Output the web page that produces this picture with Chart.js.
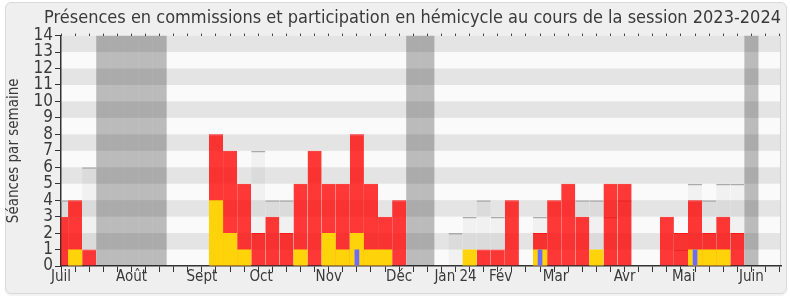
<!DOCTYPE html>
<html>
<head>
<meta charset="utf-8">
<script src="https://cdn.jsdelivr.net/npm/chart.js@4.4.1/dist/chart.umd.min.js"></script>
<style>
  html, body { margin: 0; padding: 0; background: #fff; }
  #frame { position: absolute; left: 5px; top: 2px; width: 780px; height: 290px; background: #efefef;
           border: 1px solid #d9d9d9; border-radius: 6px; box-shadow: 0 2px 1px rgba(0,0,0,0.05); }
  #wrap { position: absolute; left: 0; top: 0; width: 790px; height: 300px; }
</style>
</head>
<body>
<div id="frame"></div>
<div id="wrap"><canvas id="chart" width="790" height="300"></canvas></div>
<script>
// semaines de la session (0 = première semaine de juillet 2023)
const weeks = Array.from({ length: 52 }, (_, i) => i);

const vacances   = [null,null,null,14,14,14,14,14,null,null,null,null,null,null,null,null,null,null,null,null,null,null,null,null,null,14,14,null,null,null,null,null,null,null,null,null,null,null,null,null,null,null,null,null,null,null,null,null,null,14,null,null];
const mediane    = [4,null,6,null,null,null,null,null,null,null,null,null,null,null,7,4,4,null,null,null,null,null,null,null,null,null,null,null,2,3,4,3,null,null,3,null,null,4,4,3,4,null,null,null,1,5,4,5,5,null,null,null];
const commission = [3,4,1,null,null,null,null,null,null,null,null,8,7,5,2,3,2,5,7,5,5,8,5,3,4,null,null,null,null,null,1,1,4,null,2,4,5,3,null,5,5,null,null,3,2,4,2,3,2,null,null,null];
const hemicycle  = [null,1,null,null,null,null,null,null,null,null,null,4,2,1,null,null,null,1,null,2,1,2,1,1,null,null,null,null,null,1,null,null,null,null,1,null,null,null,1,null,null,null,null,null,null,1,1,1,null,null,null,null];
const questions  = [null,null,null,null,null,null,null,null,null,null,null,null,null,null,null,null,null,null,null,null,null,1,null,null,null,null,null,null,null,null,null,null,null,null,1,null,null,null,null,null,null,null,null,null,null,1,null,null,null,null,null,null];

const monthLabels = ['Juil', 'Août', 'Sept', 'Oct', 'Nov', 'Déc', 'Jan 24', 'Fév', 'Mar', 'Avr', 'Mai', 'Juin'];
const monthPos    = [0, 5, 10, 14.2, 19, 24, 28, 31.2, 35.1, 40, 44.2, 49];

const FONT = "'DejaVu Sans Condensed', 'DejaVu Sans', sans-serif";
const TEXT = '#3a3a3a';

const pts = arr => weeks.map((w, i) => ({ x: w, y: arr[i] }));

const stripes = {
  id: 'stripes',
  beforeDraw(chart) {
    const { ctx, chartArea: a, scales: { y } } = chart;
    ctx.save();
    ctx.fillStyle = '#fafafa';
    ctx.fillRect(a.left, a.top, a.right - a.left, a.bottom - a.top);
    ctx.fillStyle = '#e4e4e4';
    for (let v = 1; v < 14; v += 2) {
      const top = y.getPixelForValue(v + 1), bot = y.getPixelForValue(v);
      ctx.fillRect(a.left, top, a.right - a.left, bot - top);
    }
    ctx.strokeStyle = '#d2d2d2';
    ctx.lineWidth = 1;
    ctx.beginPath();
    ctx.moveTo(a.right - 0.5, a.top);
    ctx.lineTo(a.right - 0.5, a.bottom);
    ctx.stroke();
    ctx.restore();
  }
};

const common = { xAxisID: 'x', yAxisID: 'y', grouped: false, categoryPercentage: 1, barPercentage: 1, inflateAmount: 0 };

new Chart(document.getElementById('chart'), {
  type: 'bar',
  data: {
    datasets: [
      { ...common, label: 'Vacances', data: pts(vacances), backgroundColor: 'rgba(0,0,0,0.25)', order: 5 },
      { ...common, label: 'Médiane', data: pts(mediane), backgroundColor: 'rgba(0,0,0,0.035)',
        borderColor: '#aaaaaa', borderWidth: { top: 1.5, left: 0, right: 0, bottom: 0 }, order: 4 },
      { ...common, label: 'Commission', data: pts(commission), backgroundColor: 'rgba(255,0,0,0.78)',
        borderColor: 'rgba(255,0,0,0.9)', borderWidth: { top: 1, left: 0, right: 0, bottom: 0 }, order: 3 },
      { ...common, label: 'Hémicycle', data: pts(hemicycle), backgroundColor: '#ffd30a', order: 2 },
      { ...common, label: 'Questions', data: pts(questions), backgroundColor: '#6b6bff', barPercentage: 0.33, order: 1 }
    ]
  },
  options: {
    responsive: false,
    animation: false,
    layout: { padding: { left: 0, right: 9, top: 0, bottom: 0 } },
    plugins: {
      legend: { display: false },
      tooltip: { enabled: false },
      title: {
        display: true,
        text: 'Présences en commissions et participation en hémicycle au cours de la session 2023-2024',
        align: 'end',
        color: TEXT,
        font: { family: FONT, size: 18, weight: 'normal' },
        padding: { top: 8, bottom: 4 }
      }
    },
    scales: {
      x: {
        type: 'linear', position: 'bottom', min: 0, max: 51.1, weight: 0, offset: false,
        afterBuildTicks: s => { s.ticks = weeks.map(w => ({ value: w })); },
        afterFit: s => { s.height = 0; },
        ticks: { display: false },
        grid: { drawOnChartArea: false, offset: false, tickLength: 6, tickColor: '#333', tickWidth: 1 },
        border: { color: '#333', width: 1.5 }
      },
      xm: {
        type: 'linear', position: 'bottom', min: 0, max: 51.1, weight: 1, offset: false,
        afterBuildTicks: s => { s.ticks = monthPos.map(v => ({ value: v })); },
        afterFit: s => { s.height = 34; },
        ticks: {
          autoSkip: false, maxRotation: 0, padding: 2.5, color: TEXT,
          font: { family: FONT, size: 15 },
          callback: v => monthLabels[monthPos.indexOf(v)]
        },
        grid: { display: false, drawTicks: false },
        border: { display: false }
      },
      xt: {
        type: 'linear', position: 'top', min: 0, max: 51.1, offset: false,
        afterBuildTicks: s => { s.ticks = weeks.map(w => ({ value: w })); },
        afterFit: s => { s.height = 2; },
        ticks: { display: false },
        grid: { drawOnChartArea: false, offset: false, tickLength: 2, tickColor: '#444' },
        border: { display: false }
      },
      y: {
        min: 0, max: 14,
        afterFit: s => { s.width = 61; },
        ticks: { stepSize: 1, autoSkip: false, padding: 2, color: TEXT, font: { family: FONT, size: 17 } },
        grid: { drawOnChartArea: false, tickLength: 6, tickColor: '#333' },
        border: { color: '#333', width: 1.5 },
        title: { display: true, text: 'Séances par semaine', color: TEXT,
                 font: { family: FONT, size: 15 }, padding: { top: 5, bottom: 0 } }
      }
    }
  },
  plugins: [stripes]
});
</script>
</body>
</html>
